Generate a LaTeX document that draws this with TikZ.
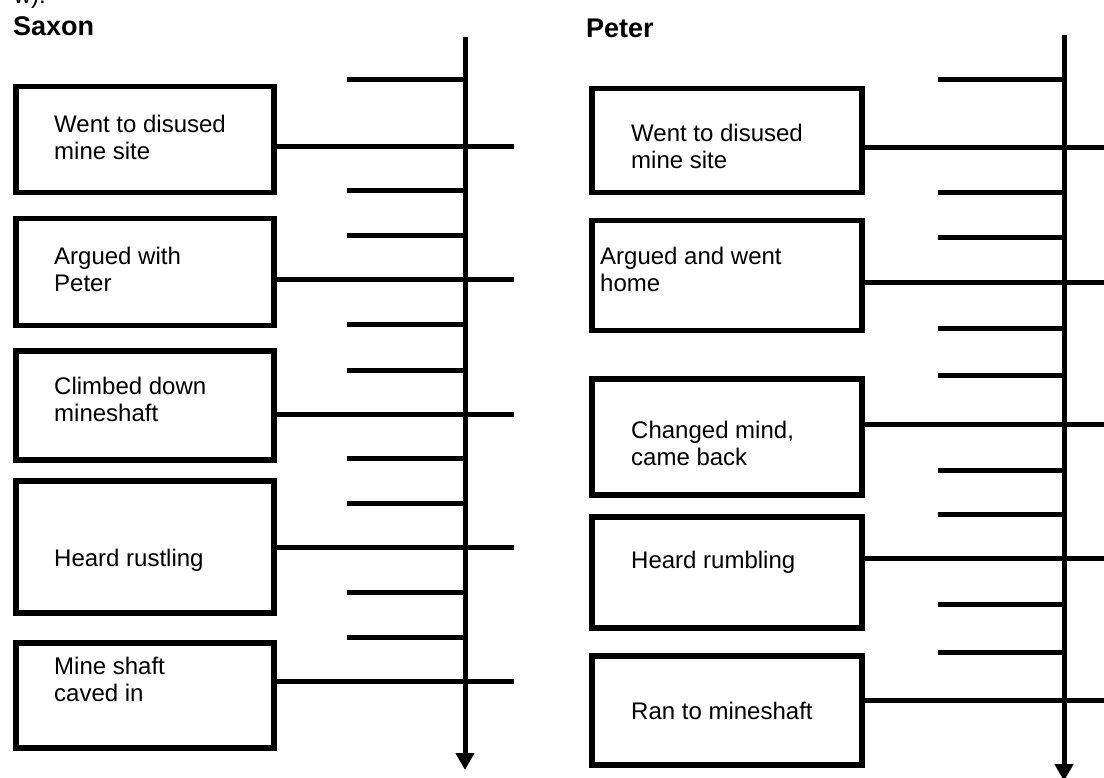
\documentclass[tikz,border=0pt]{standalone}
\usepackage{fontspec}
\setmainfont{Liberation Sans}
\usetikzlibrary{arrows.meta}
\begin{document}
\begin{tikzpicture}[x=1pt,y=-1pt,
  evbox/.style={draw, line width=5.5pt, inner sep=0pt, anchor=north west},
  evtext/.style={anchor=base west, align=left, inner sep=0pt, font=\fontsize{24}{27.5}\selectfont},
  tl/.style={line width=5pt},
  spine/.style={line width=5pt, -{Triangle[length=17pt,width=18pt]}},
  hd/.style={anchor=base west, inner sep=0pt, font=\bfseries\fontsize{27}{30}\selectfont}]
\useasboundingbox (0,0) rectangle (1104,778);
\fill[white] (0,0) rectangle (1104,778);

% fragment of preceding text
\node[anchor=base east, inner sep=0pt, font=\fontsize{24}{27}\selectfont] (frag) at (46,4) {w):};

% headings
\node[hd] (hSaxon) at (13,36) {Saxon};
\node[hd] (hPeter) at (586,38) {Peter};

% spines
\coordinate (Ltop) at (465,37);
\coordinate (Lbot) at (465,770);
\coordinate (Rtop) at (1064,35);
\coordinate (Rbot) at (1064,781);
\draw[spine] (Ltop) -- (Lbot);
\draw[spine] (Rtop) -- (Rbot);

% short ticks
\foreach \y [count=\i] in {80,191,236,325,370,458,503,592,637} {
  \coordinate (Lt\i) at (347,\y);
  \draw[tl] (Lt\i) -- (Lt\i -| Ltop);
}
\foreach \y [count=\i] in {80,193,238,329,375,470,514,604,652} {
  \coordinate (Rt\i) at (938,\y);
  \draw[tl] (Rt\i) -- (Rt\i -| Rtop);
}

% Saxon boxes
\node[evbox, minimum width=258pt, minimum height=106pt] (L1) at (13,84) {};
\node[evbox, minimum width=258pt, minimum height=107pt] (L2) at (13,216) {};
\node[evbox, minimum width=258pt, minimum height=109pt] (L3) at (13,348) {};
\node[evbox, minimum width=258pt, minimum height=132pt] (L4) at (13,478) {};
\node[evbox, minimum width=258pt, minimum height=105pt] (L5) at (13,640) {};

% (base anchor of a two-line node = baseline of its last line)
\node[evtext] (L1t) at (54,160) {Went to disused\\mine site};
\node[evtext] (L2t) at (54,291.5) {Argued with\\Peter};
\node[evtext] (L3t) at (54,421.5) {Climbed down\\mineshaft};
\node[evtext] (L4t) at (54,566) {Heard rustling};
\node[evtext] (L5t) at (54,701.5) {Mine shaft\\caved in};

% Peter boxes
\node[evbox, minimum width=270pt, minimum height=104pt] (R1) at (589,86) {};
\node[evbox, minimum width=270pt, minimum height=110pt] (R2) at (589,218) {};
\node[evbox, minimum width=270pt, minimum height=116pt] (R3) at (589,376) {};
\node[evbox, minimum width=270pt, minimum height=111pt] (R4) at (589,514) {};
\node[evbox, minimum width=270pt, minimum height=109pt] (R5) at (589,653) {};

\node[evtext] (R1t) at (631,169) {Went to disused\\mine site};
\node[evtext] (R2t) at (600,291.5) {Argued and went\\home};
\node[evtext] (R3t) at (631,465.5) {Changed mind,\\came back};
\node[evtext] (R4t) at (631,568) {Heard rumbling};
\node[evtext] (R5t) at (631,719) {Ran to mineshaft};

% long connectors
\foreach \n/\y in {1/147,2/280,3/414,4/547,5/681} {
  \coordinate (Le\n) at (514,\y);
  \draw[tl] (L\n.east |- Le\n) -- (Le\n);
}
\foreach \n/\y in {1/148,2/283,3/424,4/558,5/700} {
  \coordinate (Re\n) at (1110,\y);
  \draw[tl] (R\n.east |- Re\n) -- (Re\n);
}
\end{tikzpicture}
\end{document}
